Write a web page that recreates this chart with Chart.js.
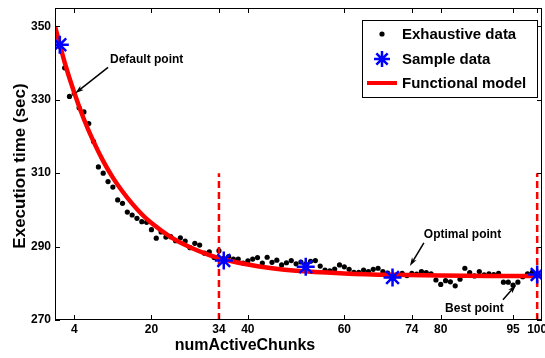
<!DOCTYPE html>
<html>
<head>
<meta charset="utf-8">
<script src="https://cdn.jsdelivr.net/npm/chart.js@4"></script>
<style>
  body { margin: 0; background: #fff; }
  canvas { display: block; }
</style>
</head>
<body>
<canvas id="chart" width="545" height="358"></canvas>
<script>
// ==================== DATA ====================
const exhaustiveX = [1,2,3,4,5,6,7,8,9,10,11,12,13,14,15,16,17,18,19,20,21,22,23,24,25,26,27,28,29,30,31,32,33,34,35,36,37,38,39,40,41,42,43,44,45,46,47,48,49,50,51,52,53,54,55,56,57,58,59,60,61,62,63,64,65,66,67,68,69,70,71,72,73,74,75,76,77,78,79,80,81,82,83,84,85,86,87,88,89,90,91,92,93,94,95,96,97,98,99,100];
const exhaustiveY = [344.5,338.7,330.9,331.7,327.8,326.7,323.5,318.6,311.7,310.0,307.7,306.2,302.7,301.8,299.4,298.6,297.7,296.8,296.6,294.6,292.3,294.0,292.6,292.7,291.6,292.4,291.5,289.7,290.9,290.4,288.2,288.6,287.0,288.9,286.8,287.3,286.6,286.6,285.5,286.1,286.6,287.0,285.5,287.1,285.7,286.3,285.0,285.6,286.2,285.3,285.8,285.2,286.0,286.2,284.7,283.6,283.4,283.9,285.0,284.5,283.8,283.0,283.0,283.6,283.2,283.8,284.1,283.2,282.8,281.8,282.4,282.7,282.1,282.7,282.5,283.2,282.9,282.6,280.9,279.7,280.7,280.4,279.3,281.1,284.1,282.9,282.0,283.2,282.3,282.6,282.4,282.7,280.3,280.3,279.5,280.3,281.8,282.6,283.0,282.6];

const sampleX = [1, 35, 52, 70, 100];
const sampleY = [345.0, 286.2, 284.5, 281.6, 282.4];

const modelX = [0, 2, 4, 6, 8, 10, 12, 14, 16, 18, 20, 24, 28, 32, 36, 40, 45, 50, 60, 70, 80, 90, 101];
const modelY = [350, 340.2, 331.9, 324.7, 318.6, 313.3, 308.8, 305.0, 301.7, 298.8, 296.4, 292.6, 289.8, 287.7, 286.2, 285.1, 284.1, 283.4, 282.7, 282.3, 282.1, 282.0, 282.0];

const markerLinesX = [34, 100];
const markerLineRange = [270, 310];

const xTicks = [4, 20, 34, 40, 60, 74, 80, 95, 100];
const yTicks = [270, 290, 310, 330, 350];

const legendLabels = ['Exhaustive data', 'Sample data', 'Functional model'];
const xTitle = 'numActiveChunks';
const yTitle = 'Execution time (sec)';

// notes: text anchor and arrow, in data units
const notes = [
    { text: 'Default point', tx: 11.4, ty: 340.9, ax: 11.0, ay: 338.8, bx: 4.2, by: 331.8 },
    { text: 'Optimal point', tx: 76.5, ty: 293.2, ax: 76.5, ay: 291.0, bx: 73.6, by: 284.7 },
    { text: 'Best point', tx: 80.9, ty: 273.0, ax: 92.9, ay: 275.5, bx: 95.6, by: 279.5 }
];

const FONT = "'Liberation Sans', Arial, Helvetica, sans-serif";
const toPts = (xs, ys) => xs.map((x, i) => ({ x, y: ys[i] }));

// ==================== PLUGIN ====================
function arrow(ctx, x1, y1, x2, y2) {
    const ang = Math.atan2(y2 - y1, x2 - x1);
    const h = 9;
    ctx.beginPath();
    ctx.moveTo(x1, y1);
    ctx.lineTo(x2 - 5 * Math.cos(ang), y2 - 5 * Math.sin(ang));
    ctx.stroke();
    ctx.beginPath();
    ctx.moveTo(x2, y2);
    ctx.lineTo(x2 - h * Math.cos(ang - 0.3), y2 - h * Math.sin(ang - 0.3));
    ctx.lineTo(x2 - h * 0.7 * Math.cos(ang), y2 - h * 0.7 * Math.sin(ang));
    ctx.lineTo(x2 - h * Math.cos(ang + 0.3), y2 - h * Math.sin(ang + 0.3));
    ctx.closePath();
    ctx.fill();
}

const decorPlugin = {
    id: 'decor',
    afterDraw(chart) {
        const { ctx, chartArea: a, scales: { x, y } } = chart;
        ctx.save();

        // frame + inward ticks
        ctx.strokeStyle = '#000';
        ctx.lineWidth = 1;
        ctx.strokeRect(a.left + 0.5, a.top + 0.5, a.right - a.left - 1, a.bottom - a.top - 1);
        ctx.beginPath();
        xTicks.forEach(v => {
            const px = Math.round(x.getPixelForValue(v)) + 0.5;
            ctx.moveTo(px, a.bottom); ctx.lineTo(px, a.bottom - 5);
            ctx.moveTo(px, a.top); ctx.lineTo(px, a.top + 5);
        });
        yTicks.forEach(v => {
            const py = Math.round(y.getPixelForValue(v)) + 0.5;
            ctx.moveTo(a.left, py); ctx.lineTo(a.left + 5, py);
            ctx.moveTo(a.right, py); ctx.lineTo(a.right - 5, py);
        });
        ctx.stroke();

        // x tick labels
        ctx.fillStyle = '#000';
        ctx.font = `bold 12px ${FONT}`;
        ctx.textAlign = 'center';
        ctx.textBaseline = 'top';
        xTicks.forEach(v => ctx.fillText(String(v), x.getPixelForValue(v), a.bottom + 4));

        // axis titles
        ctx.font = `bold 16px ${FONT}`;
        ctx.textBaseline = 'middle';
        ctx.fillText(xTitle, 245, 346);
        ctx.save();
        ctx.translate(20, (a.top + a.bottom) / 2 + 2);
        ctx.rotate(-Math.PI / 2);
        ctx.font = `bold 17px ${FONT}`;
        ctx.fillText(yTitle, 0, 0);
        ctx.restore();

        // notes
        ctx.font = `bold 12px ${FONT}`;
        ctx.textAlign = 'left';
        ctx.lineWidth = 1.5;
        notes.forEach(n => {
            ctx.fillText(n.text, x.getPixelForValue(n.tx), y.getPixelForValue(n.ty));
            arrow(ctx, x.getPixelForValue(n.ax), y.getPixelForValue(n.ay),
                       x.getPixelForValue(n.bx), y.getPixelForValue(n.by));
        });

        // legend
        const lx = a.right - 180, ly = a.top + 12, lw = 175, lh = 77;
        ctx.fillStyle = '#fff';
        ctx.fillRect(lx, ly, lw, lh);
        ctx.strokeStyle = '#000';
        ctx.lineWidth = 1;
        ctx.strokeRect(lx + 0.5, ly + 0.5, lw, lh);
        const rows = [ly + 14, ly + 39, ly + 63];
        ctx.fillStyle = '#000';
        ctx.beginPath();
        ctx.arc(lx + 20, rows[0], 2.6, 0, Math.PI * 2);
        ctx.fill();
        ctx.strokeStyle = '#0000ff';
        ctx.lineWidth = 2.5;
        ctx.beginPath();
        const r = 8;
        for (let k = 0; k < 4; k++) {
            const t = k * Math.PI / 4;
            ctx.moveTo(lx + 20 - r * Math.cos(t), rows[1] - r * Math.sin(t));
            ctx.lineTo(lx + 20 + r * Math.cos(t), rows[1] + r * Math.sin(t));
        }
        ctx.stroke();
        ctx.strokeStyle = '#ff0000';
        ctx.lineWidth = 4;
        ctx.beginPath();
        ctx.moveTo(lx + 5, rows[2]); ctx.lineTo(lx + 35, rows[2]);
        ctx.stroke();
        ctx.fillStyle = '#000';
        ctx.font = `bold 15px ${FONT}`;
        legendLabels.forEach((t, i) => ctx.fillText(t, lx + 40, rows[i] + 1));

        ctx.restore();
    }
};

// ==================== CHART ====================
const datasets = [
    {
        label: legendLabels[0],
        data: toPts(exhaustiveX, exhaustiveY),
        showLine: false,
        pointRadius: 2.6,
        pointBackgroundColor: '#000',
        pointBorderWidth: 0,
        order: 4
    },
    {
        label: legendLabels[2],
        data: toPts(modelX, modelY),
        showLine: true,
        borderColor: '#ff0000',
        borderWidth: 4.5,
        pointRadius: 0,
        cubicInterpolationMode: 'monotone',
        order: 3
    },
    ...markerLinesX.map(v => ({
        label: 'marker ' + v,
        data: markerLineRange.map(yy => ({ x: v, y: yy })),
        showLine: true,
        borderColor: '#ff0000',
        borderWidth: 2.5,
        borderDash: [7, 4],
        pointRadius: 0,
        order: 2
    })),
    {
        label: legendLabels[1],
        data: toPts(sampleX, sampleY),
        showLine: false,
        pointStyle: 'star',
        pointRadius: 9,
        pointBorderColor: '#0000ff',
        pointBorderWidth: 2.5,
        order: 1
    }
];

new Chart(document.getElementById('chart'), {
    type: 'scatter',
    data: { datasets },
    plugins: [decorPlugin],
    options: {
        responsive: false,
        animation: false,
        events: [],
        layout: { autoPadding: false, padding: { top: 8, right: 3, left: 0, bottom: 0 } },
        plugins: { legend: { display: false }, tooltip: { enabled: false } },
        scales: {
            x: {
                type: 'linear',
                min: 0,
                max: 101,
                afterBuildTicks: s => { s.ticks = xTicks.map(v => ({ value: v })); },
                afterFit: s => { s.height = 38; s.paddingLeft = 0; s.paddingRight = 0; },
                grid: { drawOnChartArea: false, drawTicks: false },
                border: { display: false },
                ticks: { display: false }
            },
            y: {
                min: 270,
                max: 355,
                afterBuildTicks: s => { s.ticks = yTicks.map(v => ({ value: v })); },
                afterFit: s => { s.width = 55; s.paddingTop = 0; s.paddingBottom = 0; },
                grid: { drawOnChartArea: false, drawTicks: false },
                border: { display: false },
                ticks: {
                    padding: 4, color: '#000',
                    font: { family: FONT, size: 12, weight: 'bold' }
                }
            }
        }
    }
});
</script>
</body>
</html>
